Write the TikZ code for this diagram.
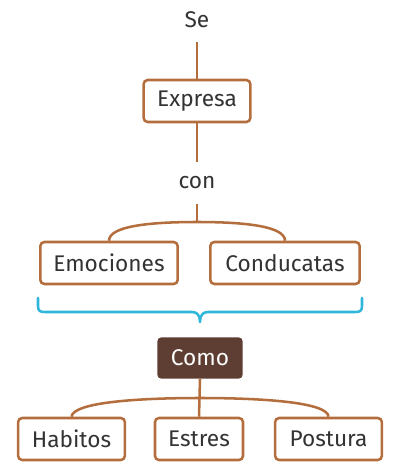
\documentclass[tikz,border=0pt]{standalone}
\usepackage{fontspec}
\setmainfont{Fira Sans}
\definecolor{brn}{HTML}{B46E3E}
\definecolor{dbrn}{HTML}{5E3E33}
\definecolor{cyn}{HTML}{2EB7DA}
\definecolor{txt}{HTML}{333333}
\begin{document}
\begin{tikzpicture}[x=0.75pt,y=-0.75pt,
  every node/.style={font=\fontsize{17}{20}\selectfont, text=txt},
  topic/.style={draw=brn, line width=1.9pt, rounded corners=3pt, fill=white, minimum height=31.5pt, inner sep=0pt},
  dark/.style={fill=dbrn, rounded corners=3pt, minimum height=31pt, minimum width=64pt, inner sep=0pt, text=white},
  conn/.style={draw=brn, line width=1.9pt}]
\useasboundingbox (0,0) rectangle (403,476);
\node (se) at (197,20) {Se};
\node[topic, minimum width=80pt] (expresa) at (197,101) {Expresa};
\node (con) at (197,183) {con};
\node[topic, minimum width=103pt] (emoc) at (109,263) {Emociones};
\node[topic, minimum width=112pt] (cond) at (285,263) {Conducatas};
\node[dark] (como) at (200,358) {Como};
\node[topic, minimum width=80pt] (hab) at (71.5,439) {Habitos};
\node[topic, minimum width=66pt] (est) at (199,439) {Estres};
\node[topic, minimum width=80pt] (pos) at (328.5,439) {Postura};
\coordinate (b1) at (197,222);
\coordinate (b2) at (200,398);
\draw[conn] (197,42) -- (expresa.north);
\draw[conn] (expresa.south) -- (197,162);
\draw[conn] (197,204) -- (b1);
\draw[conn] (emoc.north) .. controls (109,226) and (150,222) .. (b1)
  .. controls (244,222) and (285,226) .. (cond.north);
\draw[cyn, line width=1.9pt, line cap=round, line join=round]
  (38,298) -- (38,306) .. controls (38,311) and (40,312) .. (45,312) -- (192,312)
  .. controls (197,312) and (200,315) .. (200,322)
  .. controls (200,315) and (203,312) .. (208,312) -- (355,312)
  .. controls (360,312) and (362,311) .. (362,306) -- (362,298);
\draw[conn] (como.south) -- (est.north);
\draw[conn] (hab.north) .. controls (73,402) and (140,398) .. (b2)
  .. controls (260,398) and (328,402) .. (pos.north);
\end{tikzpicture}
\end{document}
